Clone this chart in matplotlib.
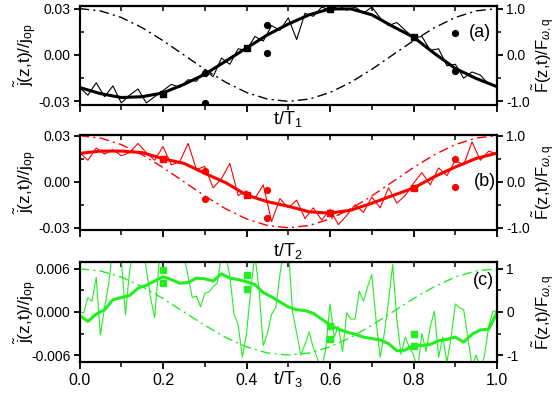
import numpy as np
import matplotlib
matplotlib.use("Agg")
import matplotlib.pyplot as plt
from matplotlib.ticker import MultipleLocator

plt.rcParams["font.family"] = ["Liberation Sans", "DejaVu Sans"]
plt.rcParams["mathtext.fontset"] = "custom"
plt.rcParams["mathtext.rm"] = "Liberation Sans"
plt.rcParams["mathtext.it"] = "Liberation Sans:italic"
plt.rcParams["mathtext.bf"] = "Liberation Sans:bold"

# ---- data ----
t_coarse = np.linspace(0.0, 1.0, 21)   # 0.05 steps
t_fine = np.linspace(0.0, 1.0, 51)     # 0.02 steps
t_green = np.linspace(0.0, 1.0, 101)   # 0.01 steps

# driving force F/F_wq (dash-dot), same shape in all panels
force = [1.0, 0.951, 0.809, 0.588, 0.309, 0.0, -0.309, -0.588, -0.809, -0.951, -1.0,
         -0.951, -0.809, -0.588, -0.309, 0.0, 0.309, 0.588, 0.809, 0.951, 1.0]

# panel (a)
j_smooth_a = [-0.021, -0.025, -0.0275, -0.027, -0.0245, -0.019, -0.0125, -0.004, 0.0045, 0.013,
              0.020, 0.026, 0.0298, 0.0298, 0.026, 0.0185, 0.0115, 0.001, -0.0087, -0.0152, -0.0205]
j_noisy_a = [-0.021, -0.026, -0.018, -0.027, -0.020, -0.031, -0.026, -0.022, -0.031, -0.027,
             -0.023, -0.019, -0.021, -0.016, -0.017, -0.010, -0.014, -0.002, -0.006, 0.004,
             0.003, 0.012, 0.009, 0.019, 0.016, 0.024, 0.010, 0.027, 0.025, 0.031,
             0.029, 0.032, 0.029, 0.031, 0.027, 0.031, 0.024, 0.019, 0.021, 0.016,
             0.011, 0.012, 0.003, 0.004, -0.007, -0.006, -0.015, -0.011, -0.013, -0.019, -0.020]
sq_t_a = [0.2, 0.4, 0.6, 0.8]
sq_j_a = [-0.025, 0.0045, 0.0298, 0.0117]
dot_t_a = [0.3, 0.3, 0.45, 0.45, 0.9, 0.9]
dot_j_a = [-0.0117, -0.031, 0.0196, 0.0013, 0.014, -0.0104]

# panel (b)
j_smooth_b = [0.0185, 0.020, 0.020, 0.019, 0.015, 0.012, 0.0055, -0.0006, -0.0087, -0.013,
              -0.016, -0.0196, -0.0205, -0.0185, -0.014, -0.009, -0.0041, 0.0033, 0.0096, 0.0152, 0.0187]
j_noisy_b = [0.019, 0.014, 0.022, 0.018, 0.021, 0.017, 0.019, 0.025, 0.019, 0.014,
             0.023, 0.011, 0.013, 0.025, 0.008, 0.010, -0.004, 0.002, 0.012, -0.009,
             -0.006, -0.011, -0.002, -0.026, -0.011, -0.017, -0.012, -0.024, -0.017, -0.025,
             -0.018, -0.028, -0.022, -0.015, -0.020, -0.010, -0.017, -0.004, -0.014, -0.009,
             -0.001, 0.006, -0.002, 0.009, 0.004, 0.014, 0.011, 0.026, 0.014, 0.020, 0.018]
sq_t_b = [0.2, 0.4, 0.6, 0.8]
sq_j_b = [0.0146, -0.0087, -0.0205, -0.0041]
dot_t_b = [0.3, 0.3, 0.45, 0.45, 0.9, 0.9]
dot_j_b = [0.0072, -0.0113, -0.0054, -0.0235, 0.0148, -0.0035]

# panel (c)  (values in units of 1e-3)
j_smooth_c = np.array([-0.5, -1.3, -0.3, 0.3, 1.7, 2.0, 2.3, 3.3, 3.7, 4.3,
                       4.9, 4.5, 4.0, 4.1, 4.7, 4.6, 4.3, 5.3, 4.7, 4.5,
                       4.2, 3.8, 2.7, 2.1, 1.4, 0.7, 0.3, 0.2, -0.2, -1.0,
                       -1.8, -2.4, -2.8, -3.1, -3.5, -3.7, -3.9, -4.4, -5.4, -5.3,
                       -4.6, -4.7, -4.5, -4.0, -3.8, -3.5, -4.2, -3.1, -2.5, -2.4, -0.1]) * 1e-3
j_noisy_c = np.array([0.0, -0.1, 2.0, 1.5, 4.8, -3.2, 0.6, 4.0, 9.0, 8.0,
                      7.5, -0.4, 5.7, 9.0, 8.0, 9.0, 6.0, 2.0, -0.8, 6.5,
                      9.0, 9.5, 8.0, 9.0, 8.5, 7.8, 5.0, 2.0, 2.2, 0.7,
                      2.6, 2.8, 3.5, 4.0, 8.0, 8.0, 5.0, -0.3, -1.8, -6.3,
                      -3.0, 3.0, 8.0, 3.0, -4.7, -3.0, -0.3, 0.6, 5.2, 9.0,
                      9.0, 0.1, -2.9, -6.0, -4.5, -2.8, -5.0, -6.5, -8.0, -5.0,
                      1.1, -3.5, -2.0, -5.5, -0.1, -1.0, -1.0, 2.9, 1.5, 3.5,
                      5.2, -1.0, -6.3, -3.0, 1.5, 6.6, -1.0, -5.9, -3.5, -4.9,
                      -6.0, -8.0, -3.0, -5.5, -2.0, 0.1, -6.3, -3.5, -7.0, -3.5,
                      1.1, 0.6, 0.3, -3.5, -7.5, -6.0, -8.0, -6.0, -2.0, 0.1, 0.1]) * 1e-3
sq_t_c = [0.2, 0.2, 0.4, 0.4, 0.6, 0.6, 0.8, 0.8]
sq_j_c = [0.0058, 0.0040, 0.0051, 0.0032, -0.0019, -0.0037, -0.0031, -0.0048]

x_ticks = [0.0, 0.2, 0.4, 0.6, 0.8, 1.0]
x_tick_labels = ["0.0", "0.2", "0.4", "0.6", "0.8", "1.0"]

J_LABEL = r"$\tilde{\mathrm{j}}$(z,t)//j$_{\mathrm{op}}$"
F_LABEL = r"$\tilde{\mathrm{F}}$(z,t)/F$_{\omega,\mathrm{q}}$"

DASHDOT = (0, (7, 3, 1.5, 3))

fig = plt.figure(figsize=(5.56, 3.98), dpi=100)


def style_axes(ax, axr, jmax, jlim, fscale, show_xlabels):
    ax.set_xlim(0, 1)
    ax.set_ylim(*jlim)
    axr.set_ylim(jlim[0] / fscale, jlim[1] / fscale)
    for a in (ax, axr):
        for s in a.spines.values():
            s.set_linewidth(1.5)
    ax.xaxis.set_major_locator(MultipleLocator(0.2))
    ax.xaxis.set_minor_locator(MultipleLocator(0.1))
    ax.set_yticks([-jmax, 0, jmax])
    ax.yaxis.set_minor_locator(MultipleLocator(jmax / 2))
    ax.tick_params(axis="x", which="major", direction="out", length=5, width=1.3,
                   labelsize=11.5, pad=3, labelbottom=show_xlabels)
    ax.tick_params(axis="x", which="minor", direction="out", length=3.5, width=1.1)
    ax.tick_params(axis="y", which="major", direction="out", length=4, width=1.3,
                   labelsize=10, pad=2.5)
    ax.tick_params(axis="y", which="minor", direction="in", length=3, width=1.1)
    axr.tick_params(axis="y", which="major", direction="out", length=4, width=1.3,
                    labelsize=10, pad=2.5)
    axr.tick_params(axis="y", which="minor", direction="out", length=3, width=1.1)
    axr.yaxis.set_minor_locator(MultipleLocator(0.5))
    top = ax.secondary_xaxis("top")
    top.xaxis.set_major_locator(MultipleLocator(0.2))
    top.xaxis.set_minor_locator(MultipleLocator(0.1))
    top.tick_params(axis="x", which="both", direction="in", length=3.5, width=1.1,
                    labeltop=False)
    top.spines["top"].set_linewidth(1.5)
    ax.set_ylabel(J_LABEL, fontsize=12.5)
    ax.yaxis.set_label_coords(-0.097, 0.5)
    axr.set_ylabel(F_LABEL, fontsize=12)
    axr.yaxis.set_label_coords(1.08, 0.5)


# ---- panel (a) ----
ax_a = fig.add_axes([0.143, 0.736, 0.751, 0.249])
axr_a = ax_a.twinx()
axr_a.plot(t_coarse, force, color="black", lw=1.0, ls=DASHDOT)
ax_a.plot(t_fine, j_noisy_a, color="black", lw=0.8)
ax_a.plot(t_coarse, j_smooth_a, color="black", lw=2.2)
ax_a.plot(sq_t_a, sq_j_a, ls="none", marker="s", ms=4.5, color="black")
ax_a.plot(dot_t_a, dot_j_a, ls="none", marker="o", ms=4.2, color="black")
style_axes(ax_a, axr_a, 0.03, (-0.0324, 0.0317), 0.03, False)
ax_a.set_yticklabels(["-0.03", "0.00", "0.03"])
axr_a.set_yticks([-1.0, 0.0, 1.0])
axr_a.set_yticklabels(["-1.0", "0.0", "1.0"])
ax_a.text(0.5, -0.04, r"t/T$_1$", transform=ax_a.transAxes, ha="center", va="top", fontsize=13)
ax_a.text(0.958, 0.735, "(a)", transform=ax_a.transAxes, ha="center", va="center", fontsize=13)

# ---- panel (b) ----
ax_b = fig.add_axes([0.143, 0.422, 0.751, 0.240])
axr_b = ax_b.twinx()
red = "#ff0000"
axr_b.plot(t_coarse, force, color=red, lw=1.0, ls=DASHDOT)
ax_b.plot(t_fine, j_noisy_b, color=red, lw=0.8)
ax_b.plot(t_coarse, j_smooth_b, color=red, lw=2.2)
ax_b.plot(sq_t_b, sq_j_b, ls="none", marker="s", ms=4.5, color=red)
ax_b.plot(dot_t_b, dot_j_b, ls="none", marker="o", ms=4.2, color=red)
style_axes(ax_b, axr_b, 0.03, (-0.0315, 0.0308), 0.03, False)
ax_b.set_yticklabels(["-0.03", "0.00", "0.03"])
axr_b.set_yticks([-1.0, 0.0, 1.0])
axr_b.set_yticklabels(["-1.0", "0.0", "1.0"])
ax_b.text(0.5, -0.11, r"t/T$_2$", transform=ax_b.transAxes, ha="center", va="top", fontsize=13)
ax_b.text(0.97, 0.505, "(b)", transform=ax_b.transAxes, ha="center", va="center", fontsize=13)

# ---- panel (c) ----
ax_c = fig.add_axes([0.143, 0.0897, 0.751, 0.253])
axr_c = ax_c.twinx()
green = "#22ee22"
axr_c.plot(t_coarse, force, color=green, lw=1.0, ls=DASHDOT)
ax_c.plot(t_green, j_noisy_c, color=green, lw=0.8)
ax_c.plot(t_fine, j_smooth_c, color=green, lw=2.2)
ax_c.plot(sq_t_c, sq_j_c, ls="none", marker="s", ms=4.0, color=green)
style_axes(ax_c, axr_c, 0.006, (-0.007, 0.007), 0.006, True)
ax_c.set_yticklabels(["-0.006", "0.000", "0.006"])
axr_c.set_yticks([-1, 0, 1])
axr_c.set_yticklabels(["-1", "0", "1"])
ax_c.set_xticks(x_ticks)
ax_c.set_xticklabels(x_tick_labels)
ax_c.text(0.5, -0.07, r"t/T$_3$", transform=ax_c.transAxes, ha="center", va="top", fontsize=13)
ax_c.text(0.967, 0.81, "(c)", transform=ax_c.transAxes, ha="center", va="center", fontsize=13)

fig.savefig("out.png", dpi=100)
